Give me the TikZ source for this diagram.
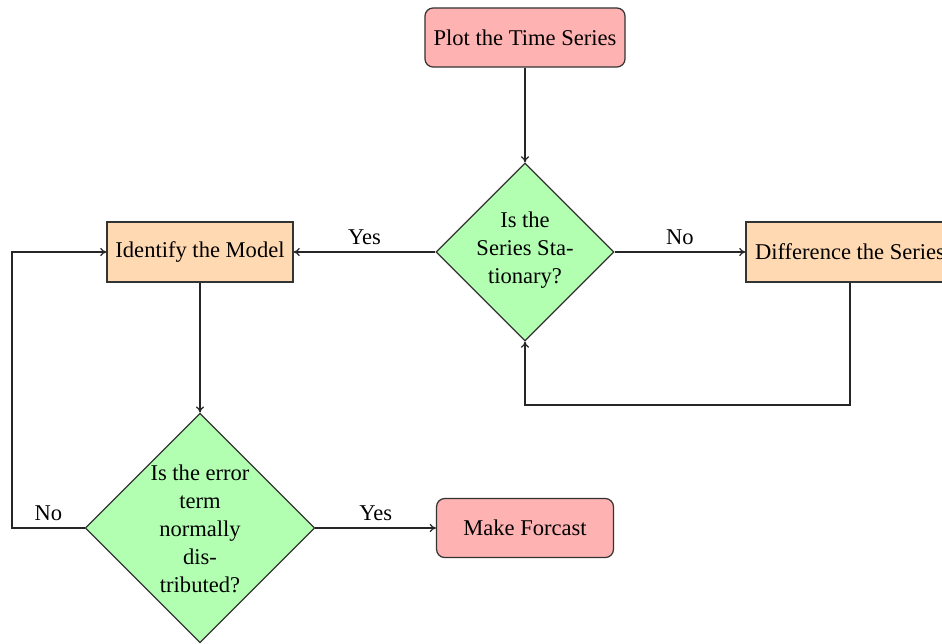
\documentclass[tikz,border=0pt]{standalone}
\usepackage{fontspec}
\setmainfont{Liberation Serif}
\usetikzlibrary{shapes.geometric,arrows.meta}
\begin{document}
\begin{tikzpicture}[x=0.4878pt,y=-0.4878pt,
  font=\fontsize{11}{13.6}\selectfont,
  line width=0.6pt,
  every node/.style={text=black},
  startstop/.style={draw=black!80, fill=red!30, rounded corners=4pt, minimum width=97.6pt, minimum height=28.8pt, inner sep=0pt},
  procbox/.style={draw=black!80, fill=orange!30, minimum height=29.3pt, inner sep=0pt},
  decbox/.style={draw=black!80, fill=green!30, diamond, aspect=1, inner sep=0pt},
  conn/.style={draw=black!85, -{To[length=3pt,width=4pt]}},
  lbl/.style={above, inner sep=3.3pt}
]
\useasboundingbox (0,0) rectangle (942,643);

\node[startstop] (plot) at (525,37.5) {Plot the Time Series};
\node[decbox, minimum width=86.8pt, minimum height=86.8pt] (d1) at (525,252) {};
\node[align=center] (d1t) at (525,250) {Is the\\Series Sta-\\tionary?};
\node[procbox, minimum width=90.7pt] (ident) at (200,252) {Identify the Model};
\node[procbox, minimum width=101.5pt] (diff) at (850,252) {Difference the Series};
\node[decbox, minimum width=112pt, minimum height=112pt] (d2) at (200,528) {};
\node[align=center] (d2t) at (200,529) {Is the error\\term\\normally\\dis-\\tributed?};
\node[startstop, minimum width=86.3pt] (fc) at (525,528) {Make Forcast};

\coordinate (lp) at (525,405);
\coordinate (lc) at (12,528);

\draw[conn] (plot) -- (d1);
\draw[conn] (d1.west) -- node[lbl] {Yes} (ident.east);
\draw[conn] (d1.east) -- node[lbl] {No} (diff.west);
\draw[conn] (diff.south) |- (lp) -- (d1.south);
\draw[conn] (ident.south) -- (d2.north);
\draw[conn] (d2.east) -- node[lbl] {Yes} (fc.west);
\draw[conn] (d2.west) -- node[lbl] {No} (lc) |- (ident.west);
\end{tikzpicture}
\end{document}
